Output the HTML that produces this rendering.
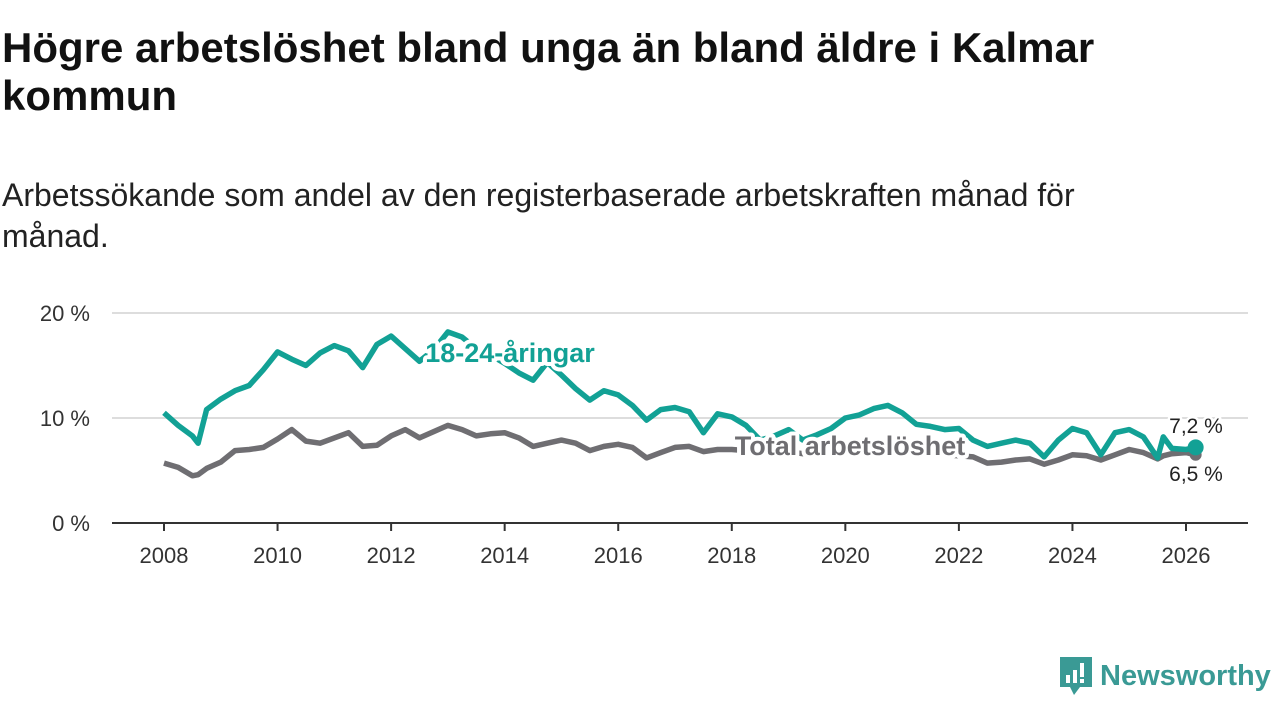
<!DOCTYPE html>
<html><head><meta charset="utf-8">
<style>
body{margin:0;width:1280px;height:720px;background:#fff;font-family:"Liberation Sans","DejaVu Sans",sans-serif;overflow:hidden;position:relative}
h1{position:absolute;left:2px;top:24px;margin:0;font-size:42px;line-height:48px;font-weight:bold;color:#111;width:1200px}
.sub{position:absolute;left:2px;top:175px;margin:0;font-size:32px;line-height:41px;color:#222;width:1170px}
svg{position:absolute;left:0;top:0}
</style></head><body>
<h1>Högre arbetslöshet bland unga än bland äldre i Kalmar kommun</h1>
<p class="sub">Arbetssökande som andel av den registerbaserade arbetskraften månad för månad.</p>
<svg id="chart" width="1280" height="720"></svg>
<div style="position:absolute;left:1058px;top:655px;display:flex;align-items:center">
<svg width="36" height="42" style="position:relative"><path d="M2 2h32v30h-12l-6 8-4-8H2z" fill="#3a9a95"/><rect x="8" y="20" width="4" height="8" fill="#fff"/><rect x="15" y="15" width="4" height="13" fill="#fff"/><rect x="22" y="8" width="4" height="14" fill="#fff"/><rect x="22" y="24" width="4" height="4" fill="#fff"/></svg>
<span style="font-size:29px;color:#3a9a95;margin-left:6px;font-weight:bold">Newsworthy</span></div>
<script>
const years=[2008,2008.25,2008.5,2008.6,2008.75,2009,2009.25,2009.5,2009.75,2010,2010.25,2010.5,2010.75,2011,2011.25,2011.5,2011.75,2012,2012.25,2012.5,2012.75,2013,2013.25,2013.5,2013.75,2014,2014.25,2014.5,2014.75,2015,2015.25,2015.5,2015.75,2016,2016.25,2016.5,2016.75,2017,2017.25,2017.5,2017.75,2018,2018.25,2018.5,2018.75,2019,2019.25,2019.5,2019.75,2020,2020.25,2020.5,2020.75,2021,2021.25,2021.5,2021.75,2022,2022.25,2022.5,2022.75,2023,2023.25,2023.5,2023.75,2024,2024.25,2024.5,2024.75,2025,2025.25,2025.5,2025.6,2025.75,2026,2026.17];
const youth=[10.5,9.3,8.3,7.6,10.8,11.8,12.6,13.1,14.6,16.3,15.6,15.0,16.2,16.9,16.4,14.8,17.0,17.8,16.6,15.4,16.5,18.2,17.7,16.6,16.0,15.2,14.3,13.6,15.3,14.1,12.8,11.7,12.6,12.2,11.2,9.8,10.8,11.0,10.6,8.6,10.4,10.1,9.3,7.9,8.3,8.9,7.9,8.4,9.0,10.0,10.3,10.9,11.2,10.5,9.4,9.2,8.9,9.0,7.9,7.3,7.6,7.9,7.6,6.3,7.9,9.0,8.6,6.5,8.6,8.9,8.2,6.2,8.2,7.1,7.0,7.2];
const total=[5.7,5.3,4.5,4.6,5.2,5.8,6.9,7.0,7.2,8.0,8.9,7.8,7.6,8.1,8.6,7.3,7.4,8.3,8.9,8.1,8.7,9.3,8.9,8.3,8.5,8.6,8.1,7.3,7.6,7.9,7.6,6.9,7.3,7.5,7.2,6.2,6.7,7.2,7.3,6.8,7.0,7.0,6.9,6.8,6.7,6.8,6.6,6.7,6.6,6.6,6.7,6.7,6.6,6.7,6.6,6.5,6.5,6.4,6.3,5.7,5.8,6.0,6.1,5.6,6.0,6.5,6.4,6.0,6.5,7.0,6.7,6.1,6.4,6.6,6.7,6.5];
const yTicks=[0,10,20];
const xTicks=[2008,2010,2012,2014,2016,2018,2020,2022,2024,2026];
const NS="http://www.w3.org/2000/svg",svg=document.getElementById('chart');
const X=v=>164+(v-2008)*(1186-164)/18, Y=v=>523-v*10.5;
function mk(t,a,p){const e=document.createElementNS(NS,t);for(const k in a)e.setAttribute(k,a[k]);(p||svg).appendChild(e);return e;}
yTicks.forEach(t=>{
 const l=mk('line',{x1:112,x2:1248,y1:Y(t),y2:Y(t),stroke:t?'#ddd':'#333','stroke-width':2});
 
 
 const tx=mk('text',{x:90,y:Y(t)+8,'text-anchor':'end','font-size':22,fill:'#333'});tx.textContent=t+' %';
 
 
});
xTicks.forEach(t=>{
 const l=mk('line',{x1:X(t),x2:X(t),y1:523,y2:531,stroke:'#333','stroke-width':2});
 
 
 const tx=mk('text',{x:X(t),y:563,'text-anchor':'middle','font-size':22,fill:'#333'});tx.textContent=t;
 
 
});
function line(vals,col,name){
 const d=vals.map((v,i)=>(i?'L':'M')+X(years[i]).toFixed(1)+' '+Y(v).toFixed(1)).join(' ');
 const p=mk('path',{d:d,fill:'none',stroke:col,'stroke-width':5.5,'stroke-linejoin':'round'});
 
 
}
line(total,'#6f6e72','line-total');
line(youth,'#12a195','line-youth');
const n=years.length-1;
const c1=mk('circle',{cx:X(years[n]),cy:Y(total[n]),r:6,fill:'#6f6e72'});

const c2=mk('circle',{cx:X(years[n]),cy:Y(youth[n]),r:8,fill:'#12a195'});

function lab(x,y,txt,col,size,w,name){
 const t=mk('text',{x:x,y:y,'text-anchor':'middle','font-size':size,'font-weight':w,fill:col,stroke:'#fff','stroke-width':w=='bold'?8:5,'paint-order':'stroke','stroke-linejoin':'round'});
 t.textContent=txt;
 
 
}
lab(510,362,'18-24-åringar','#12a195',27,'bold','label-youth');
lab(850,455,'Total arbetslöshet','#6f6e72',27,'bold','label-total');
lab(1196,433,'7,2 %','#222',21,'normal','value-youth');
lab(1196,481,'6,5 %','#222',21,'normal','value-total');
</script>
</body></html>
